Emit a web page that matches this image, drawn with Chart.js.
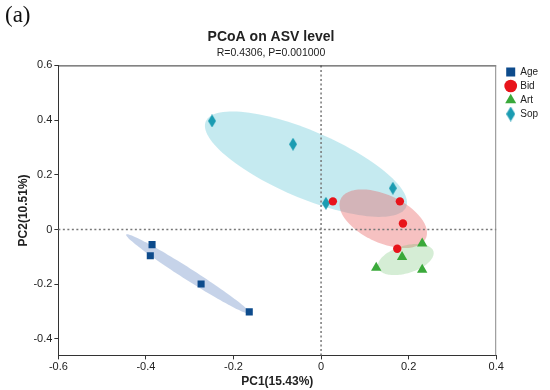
<!DOCTYPE html>
<html>
<head>
<meta charset="utf-8">
<script src="https://cdn.jsdelivr.net/npm/chart.js@4.4.1/dist/chart.umd.min.js"></script>
<style>
    html, body { margin: 0; padding: 0; background: #fff; }
    #wrap { position: relative; width: 550px; height: 390px; }
    #panel { position: absolute; left: 5px; top: 2px; font: 23px "Liberation Serif", serif; color: #111; }
</style>
</head>
<body>
<div id="wrap">
    <div id="panel">(a)</div>
    <canvas id="pcoa" width="550" height="390"></canvas>
</div>
<script>
// Sample coordinates (PC1, PC2)
const groups = ['Age', 'Bid', 'Art', 'Sop'];
const agePoints = [[-0.386, -0.055], [-0.390, -0.096], [-0.274, -0.199], [-0.164, -0.301]];
const bidPoints = [[0.027, 0.103], [0.180, 0.103], [0.187, 0.022], [0.174, -0.070]];
const artPoints = [[0.231, -0.051], [0.185, -0.100], [0.126, -0.140], [0.231, -0.147]];
const sopPoints = [[-0.249, 0.397], [-0.064, 0.312], [0.164, 0.151], [0.011, 0.096]];
const xTicks = [-0.6, -0.4, -0.2, 0, 0.2, 0.4];
const yTicks = [-0.4, -0.2, 0, 0.2, 0.4, 0.6];
// ellipse size (major, minor) in covariance sd units, estimated per group
const ageEllipse = [1.32, 1.32];
const bidEllipse = [1.30, 1.30];
const artEllipse = [1.28, 1.30];
const sopEllipse = [1.32, 1.75];

// Tall diamond used for Sop markers
function makeDiamond(w, h, color) {
    const c = document.createElement('canvas');
    c.width = w; c.height = h;
    const g = c.getContext('2d');
    g.fillStyle = color;
    g.beginPath();
    g.moveTo(w / 2, 0);
    g.lineTo(w, h / 2);
    g.lineTo(w / 2, h);
    g.lineTo(0, h / 2);
    g.closePath();
    g.fill();
    return c;
}

const sopColor = '#1b9cb2';
const diamondSmall = makeDiamond(8, 13, sopColor);
const diamondLegend = makeDiamond(9, 15, sopColor);

function toXY(arr) {
    return arr.map(p => ({ x: p[0], y: p[1] }));
}

// Ellipse from group covariance, drawn in data space
function ellipsePath(chart, pts, k) {
    const xs = chart.scales.x, ys = chart.scales.y;
    const n = pts.length;
    const mx = pts.reduce((s, p) => s + p[0], 0) / n;
    const my = pts.reduce((s, p) => s + p[1], 0) / n;
    let sxx = 0, syy = 0, sxy = 0;
    pts.forEach(p => {
        sxx += (p[0] - mx) ** 2;
        syy += (p[1] - my) ** 2;
        sxy += (p[0] - mx) * (p[1] - my);
    });
    sxx /= n - 1; syy /= n - 1; sxy /= n - 1;
    const tr = sxx + syy, det = sxx * syy - sxy * sxy;
    const disc = Math.sqrt(Math.max(tr * tr / 4 - det, 0));
    const l1 = tr / 2 + disc, l2 = Math.max(tr / 2 - disc, 0);
    const ang = 0.5 * Math.atan2(2 * sxy, sxx - syy);
    const a = k[0] * Math.sqrt(l1), b = k[1] * Math.sqrt(l2);
    const ctx = chart.ctx;
    ctx.beginPath();
    for (let i = 0; i <= 120; i++) {
        const t = i / 120 * Math.PI * 2;
        const ex = a * Math.cos(t), ey = b * Math.sin(t);
        const dx = mx + ex * Math.cos(ang) - ey * Math.sin(ang);
        const dy = my + ex * Math.sin(ang) + ey * Math.cos(ang);
        const px = xs.getPixelForValue(dx), py = ys.getPixelForValue(dy);
        if (i === 0) ctx.moveTo(px, py); else ctx.lineTo(px, py);
    }
    ctx.closePath();
}

const ellipsePlugin = {
    id: 'ellipses',
    afterLayout(chart) {
        // nudge the legend right and the titles left, like the original
        chart.legend.left += 6;
        chart.legend.right += 6;
        chart.boxes.forEach(b => {
            if (b !== chart.legend && b.options && typeof b.options.text === 'string') {
                b.left -= 8;
                b.right -= 8;
            }
        });
    },
    beforeDatasetsDraw(chart) {
        const ctx = chart.ctx;
        const list = [
            [agePoints, ageEllipse, 'rgba(112,144,200,0.40)'],
            [sopPoints, sopEllipse, 'rgba(80,190,210,0.33)'],
            [bidPoints, bidEllipse, 'rgba(232,100,100,0.40)'],
            [artPoints, artEllipse, 'rgba(100,190,100,0.27)']
        ];
        ctx.save();
        list.forEach(item => {
            ellipsePath(chart, item[0], item[1]);
            ctx.fillStyle = item[2];
            ctx.fill();
        });
        // dotted zero lines
        const a = chart.chartArea;
        const x0 = chart.scales.x.getPixelForValue(0);
        const y0 = chart.scales.y.getPixelForValue(0);
        ctx.strokeStyle = '#777';
        ctx.lineWidth = 1.5;
        ctx.setLineDash([2, 2.5]);
        ctx.beginPath();
        ctx.moveTo(x0, a.top); ctx.lineTo(x0, a.bottom);
        ctx.moveTo(a.left, y0); ctx.lineTo(a.right, y0);
        ctx.stroke();
        ctx.restore();
    },
    afterDraw(chart) {
        const a = chart.chartArea, ctx = chart.ctx;
        ctx.save();
        ctx.lineWidth = 1;
        ctx.strokeStyle = '#333';
        ctx.beginPath();
        ctx.moveTo(a.left, a.top + 0.5); ctx.lineTo(a.right, a.top + 0.5);
        ctx.stroke();
        ctx.strokeStyle = '#888';
        ctx.beginPath();
        ctx.moveTo(a.right - 0.5, a.top); ctx.lineTo(a.right - 0.5, a.bottom);
        ctx.stroke();
        ctx.restore();
    }
};

function fixedTicks(values) {
    return function (scale) {
        scale.ticks = values.map(v => ({ value: v }));
    };
}

const tickFont = { family: '"Liberation Sans", Arial, sans-serif', size: 11 };
const titleFont = { family: '"Liberation Sans", Arial, sans-serif', size: 12, weight: 'bold' };

new Chart(document.getElementById('pcoa'), {
    type: 'scatter',
    data: {
        datasets: [
            { label: groups[0], data: toXY(agePoints), pointStyle: 'rect', pointRadius: 5, backgroundColor: '#0d4b8c', borderWidth: 0 },
            { label: groups[1], data: toXY(bidPoints), pointStyle: 'circle', pointRadius: 4.2, backgroundColor: '#e8141b', borderWidth: 0 },
            { label: groups[2], data: toXY(artPoints), pointStyle: 'triangle', pointRadius: 6, backgroundColor: '#3aa93a', borderWidth: 0 },
            { label: groups[3], data: toXY(sopPoints), pointStyle: diamondSmall, backgroundColor: sopColor, borderWidth: 0 }
        ]
    },
    options: {
        responsive: false,
        animation: false,
        layout: { padding: { top: 26, left: 16, right: 8, bottom: 0 } },
        plugins: {
            title: {
                display: true,
                text: 'PCoA on ASV level',
                color: '#222',
                font: { family: '"Liberation Sans", Arial, sans-serif', size: 14, weight: 'bold' },
                padding: { top: 3, bottom: 1 }
            },
            subtitle: {
                display: true,
                text: 'R=0.4306, P=0.001000',
                color: '#222',
                font: { family: '"Liberation Sans", Arial, sans-serif', size: 10.5 },
                padding: { top: 0, bottom: 6 }
            },
            legend: {
                position: 'right',
                align: 'start',
                title: { display: true, text: '', font: { size: 10 }, padding: { top: 0, bottom: 25 } },
                labels: {
                    usePointStyle: true,
                    boxWidth: 9,
                    boxHeight: 9,
                    padding: 4,
                    color: '#222',
                    font: { family: '"Liberation Sans", Arial, sans-serif', size: 10 },
                    generateLabels(chart) {
                        const items = Chart.defaults.plugins.legend.labels.generateLabels(chart);
                        items.forEach(it => {
                            it.lineWidth = 0;
                            if (it.text === 'Sop') it.pointStyle = diamondLegend;
                        });
                        return items;
                    }
                }
            },
            tooltip: { enabled: false }
        },
        scales: {
            x: {
                type: 'linear',
                min: -0.6,
                max: 0.4,
                afterBuildTicks: fixedTicks(xTicks),
                grid: { drawOnChartArea: false, drawTicks: true, tickLength: 4, color: '#333' },
                border: { display: true, color: '#333', width: 1 },
                ticks: { font: tickFont, color: '#222', padding: 1, callback: v => String(v) },
                title: { display: true, text: 'PC1(15.43%)', font: titleFont, color: '#222', padding: { top: 0, bottom: 1 } }
            },
            y: {
                type: 'linear',
                min: -0.46,
                max: 0.6,
                afterBuildTicks: fixedTicks(yTicks),
                grid: { drawOnChartArea: false, drawTicks: true, tickLength: 4, color: '#333' },
                border: { display: true, color: '#333', width: 1 },
                ticks: { font: tickFont, color: '#222', padding: 2, callback: v => String(v) },
                title: { display: true, text: 'PC2(10.51%)', font: titleFont, color: '#222', padding: { top: 0, bottom: 1 } }
            }
        }
    },
    plugins: [ellipsePlugin]
});
</script>
</body>
</html>
